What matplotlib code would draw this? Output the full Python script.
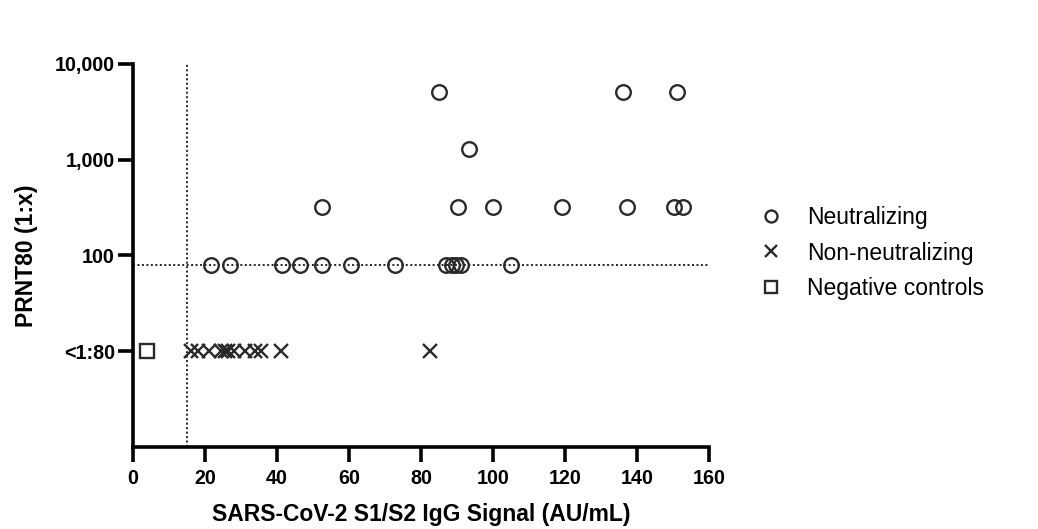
import matplotlib
matplotlib.use("Agg")
import matplotlib.pyplot as plt
from matplotlib.ticker import FixedLocator, NullLocator

plt.rcParams['font.family'] = ['Liberation Sans', 'DejaVu Sans']

# Data
neut_x_80 = [21.6, 26.9, 41.3, 46.3, 52.4, 60.5, 72.7, 87.0, 88.5, 89.8, 91.0, 105.1]
neut_y_80 = [80] * len(neut_x_80)
neut_x_320 = [52.4, 90.4, 100.1, 119.2, 137.3, 150.3, 152.8]
neut_y_320 = [320] * len(neut_x_320)
neut_x_1280 = [93.2]
neut_y_1280 = [1280]
neut_x_5120 = [84.9, 136.2, 151.1]
neut_y_5120 = [5120] * len(neut_x_5120)

nonneut_x = [16.0, 18.0, 21.0, 24.5, 25.5, 26.5, 28.0, 31.0, 34.0, 35.5, 41.2, 82.6]
nonneut_y = [10] * len(nonneut_x)

neg_x = [3.9]
neg_y = [10]

ytick_vals = [10, 100, 1000, 10000]
ytick_labels = ['<1:80', '100', '1,000', '10,000']
xtick_vals = [0, 20, 40, 60, 80, 100, 120, 140, 160]
cutoff_x = 15
cutoff_y = 80

fig = plt.figure(figsize=(10.38, 5.29), dpi=100)
ax = fig.add_axes([133/1038, 1 - 447/529, (709 - 133)/1038, (447 - 64)/529])

ax.set_yscale('log')
ax.set_xlim(0, 160)
ax.set_ylim(1, 10000)

# reference lines
ax.plot([0, 160], [cutoff_y, cutoff_y], linestyle=(0, (1, 1.3)), color='#222222', lw=1.4, zorder=1)
ax.plot([cutoff_x, cutoff_x], [1, 10000], linestyle=(0, (1, 1.3)), color='#222222', lw=1.4, zorder=1)

nx = neut_x_80 + neut_x_320 + neut_x_1280 + neut_x_5120
ny = neut_y_80 + neut_y_320 + neut_y_1280 + neut_y_5120
ax.plot(nx, ny, linestyle='none', marker='o', markersize=10.5, markerfacecolor='none',
        markeredgecolor='#2a2a2a', markeredgewidth=1.7, label='Neutralizing', zorder=3)
ax.plot(nonneut_x, nonneut_y, linestyle='none', marker='x', markersize=10,
        color='#2a2a2a', markeredgewidth=1.7, label='Non-neutralizing', zorder=3)
ax.plot(neg_x, neg_y, linestyle='none', marker='s', markersize=10.5, markerfacecolor='none',
        markeredgecolor='#2a2a2a', markeredgewidth=1.7, label='Negative controls', zorder=3)

ax.yaxis.set_major_locator(FixedLocator(ytick_vals))
ax.yaxis.set_minor_locator(NullLocator())
ax.set_yticklabels(ytick_labels)
ax.set_xticks(xtick_vals)

for s in ['top', 'right']:
    ax.spines[s].set_visible(False)
for s in ['left', 'bottom']:
    ax.spines[s].set_linewidth(2.6)
    ax.spines[s].set_color('black')

ax.tick_params(axis='both', which='major', direction='out', length=10.5, width=2.6,
               labelsize=14.2, colors='black')
ax.tick_params(axis='y', pad=2.5)
ax.tick_params(axis='x', pad=5.5)
for lab in ax.get_xticklabels() + ax.get_yticklabels():
    lab.set_fontweight('bold')

ax.set_xlabel('SARS-CoV-2 S1/S2 IgG Signal (AU/mL)', fontsize=16.5, fontweight='bold', labelpad=11)
ax.set_ylabel('PRNT80 (1:x)', fontsize=16.5, fontweight='bold', labelpad=12)

leg = fig.legend(loc='center left', bbox_to_anchor=(760/1038, 1 - 253/529), frameon=False,
                 fontsize=16.5, handletextpad=1.05, labelspacing=0.55, borderaxespad=0,
                 borderpad=0, markerscale=0.82, handlelength=1.0)

fig.savefig('out.png', dpi=100, facecolor='white')
